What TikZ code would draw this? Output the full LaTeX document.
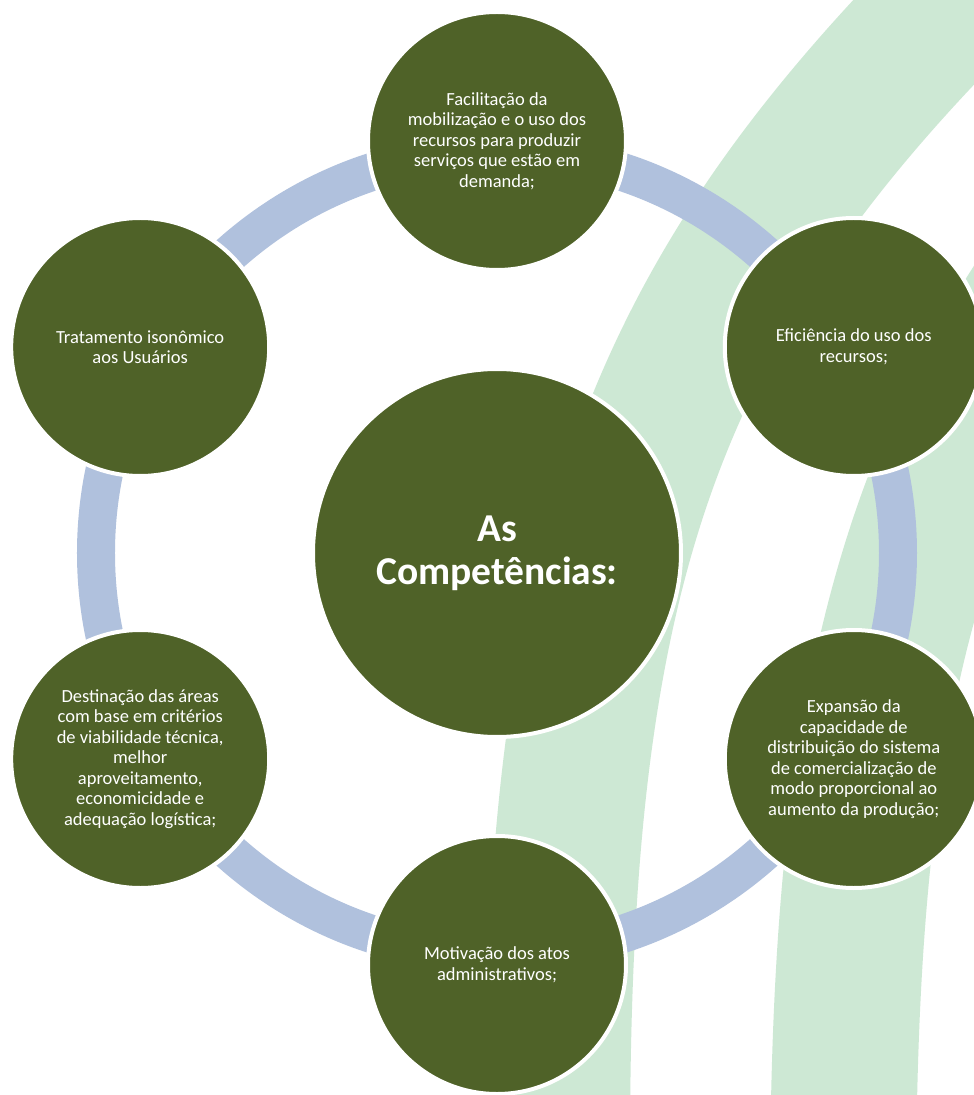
\documentclass[tikz,border=0pt]{standalone}
\usepackage{fontspec}
\setmainfont{Carlito}
\usepackage{tikz}
\usetikzlibrary{backgrounds}
\definecolor{leafgreen}{HTML}{4F6228}
\definecolor{ringblue}{HTML}{B0C1DD}
\definecolor{bandgreen}{HTML}{CDE8D4}
\tikzstyle{item} = [circle, draw=white, line width=4pt, fill=leafgreen, text=white, minimum size=258pt, inner sep=0pt, align=center, font=\fontsize{18.5}{20.5}\selectfont]
\tikzstyle{hub} = [item, minimum size=368pt, font=\bfseries\fontsize{39.5}{43}\selectfont]
\tikzset{
  ring/.style ={draw=ringblue, line width=38pt},
  band/.style ={draw=bandgreen, line width=146pt}
}
\begin{document}
\begin{tikzpicture}[x=1pt,y=1pt]
  \useasboundingbox (-497,-542) rectangle (477,553);
  \node[hub] (comp) at (0,0) {As\\Competências:};
  \node[item] (facil) at (90:412) {Facilitação da\\mobilização e o uso dos\\recursos para produzir\\serviços que estão em\\demanda;};
  \node[item] (efic) at (30:412) {Eficiência do uso dos\\recursos;};
  \node[item] (expan) at (-30:412) {Expansão da\\capacidade de\\distribuição do sistema\\de comercialização de\\modo proporcional ao\\aumento da produção;};
  \node[item] (motiv) at (-90:412) {Motivação dos atos\\administrativos;};
  \node[item] (destin) at (210:412) {Destinação das áreas\\com base em critérios\\de viabilidade técnica,\\melhor\\aproveitamento,\\economicidade e\\adequação logística;};
  \node[item] (trat) at (150:412) {Tratamento isonômico\\aos Usuários};

  \begin{scope}[on background layer]
    \fill[white] (-497,-542) rectangle (477,553);
    \clip (-497,-542) rectangle (477,553);
    % green bands
    \draw[band] (513,608) .. controls (153,263) and (60,3) .. (60,-597);
    \draw[band] (799,553) .. controls (439,208) and (346,-52) .. (346,-652);
    % ring
    \draw[ring] (comp.center) circle[radius=401pt];
  \end{scope}
\end{tikzpicture}
\end{document}
